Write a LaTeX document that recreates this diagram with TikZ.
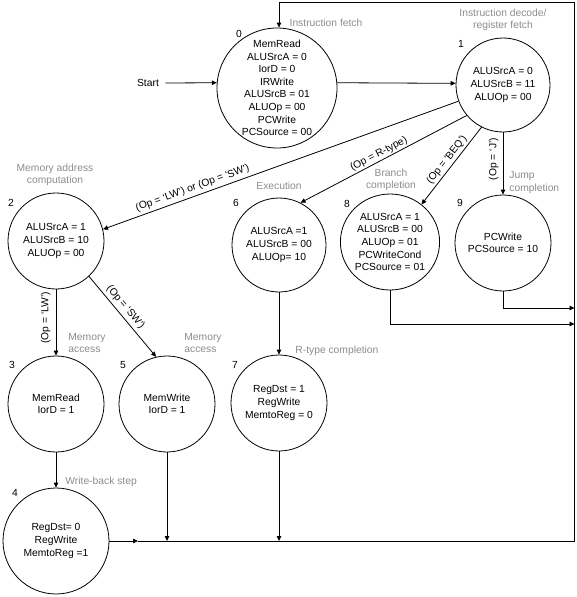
\documentclass[tikz,border=0pt]{standalone}
\usepackage{fontspec}
\setmainfont{Liberation Sans}
\usetikzlibrary{arrows.meta,shapes.geometric}
\definecolor{annoc}{RGB}{140,140,140}
\begin{document}
\begin{tikzpicture}[x=1pt,y=-1pt,line width=0.8pt,
  every node/.style={font=\fontsize{10.3}{12.6}\selectfont},
  state/.style={draw, circle, inner sep=0pt, align=center, minimum size=96pt},
  arr/.style={-{Triangle[length=5pt,width=4.5pt]}},
  anno/.style={text=annoc, inner sep=0pt, align=center},
  num/.style={inner sep=0pt},
  lbl/.style={inner sep=2pt, sloped, above}]
\useasboundingbox (0,0) rectangle (576,597);

% states
\node[state, minimum size=120pt] (s0) at (277,88) {MemRead\\ALUSrcA = 0\\IorD = 0\\IRWrite\\ALUSrcB = 01\\ALUOp = 00\\PCWrite\\PCSource = 00};
\node[state, minimum size=94pt] (s1) at (503,85) {ALUSrcA = 0\\ALUSrcB = 11\\ALUOp = 00};
\node[state] (s2) at (56,241) {ALUSrcA = 1\\ALUSrcB = 10\\ALUOp = 00};
\node[state, minimum size=94pt] (s6) at (279,245) {ALUSrcA =1\\ALUSrcB = 00\\ALUOp= 10};
\node[state, ellipse, minimum width=87pt, minimum height=96pt] (s8) at (390,242) {ALUSrcA = 1\\ALUSrcB = 00\\ALUOp = 01\\PCWriteCond\\PCSource = 01};
\node[state] (s9) at (503,243) {PCWrite\\PCSource = 10};
\node[state] (s3) at (56,404) {MemRead\\IorD = 1};
\node[state] (s5) at (167,404) {MemWrite\\IorD = 1};
\node[state] (s7) at (279,403) {RegDst = 1\\RegWrite\\MemtoReg = 0};
\node[state, minimum size=106pt] (s4) at (56,541) {RegDst= 0\\RegWrite\\MemtoReg =1};

% state numbers
\node[num] (n0) at (239,34) {0};
\node[num] (n1) at (461,44) {1};
\node[num] (n2) at (11,203) {2};
\node[num] (n6) at (236,203) {6};
\node[num] (n8) at (347,204) {8};
\node[num] (n9) at (460,203) {9};
\node[num] (n3) at (12,365) {3};
\node[num] (n5) at (123,365) {5};
\node[num] (n7) at (235,365) {7};
\node[num] (n4) at (15,493) {4};

% annotations
\node[anno] (a0) at (326,23) {Instruction fetch};
\node[anno] (a1) at (503,20) {Instruction decode/\\register fetch};
\node[anno] (a2) at (55,175) {Memory address\\computation};
\node[anno] (a6) at (279,186) {Execution};
\node[anno] (a8) at (391,180) {Branch\\completion};
\node[anno, anchor=west, align=left] (a9) at (509,182.5) {Jump\\completion};
\node[anno, anchor=west, align=left] (a3) at (68,343) {Memory\\access};
\node[anno, anchor=west, align=left] (a5) at (184,343) {Memory\\access};
\node[anno, anchor=west] (a7) at (295,351) {R-type completion};
\node[anno, anchor=west] (a4) at (65,482) {Write-back step};

% start
\node[inner sep=0pt] (start) at (148,83) {Start};
\draw[arr] ([xshift=6pt]start.east) -- (s0.175);

% transitions
\draw[arr] (s0.5) -- (s1.178);
\draw[arr] (s1.200) -- node[lbl, pos=0.74, inner sep=3pt] {(Op = ‘LW’) or (Op = ‘SW’)} (s2.14);
\draw[arr] (s1.220) -- node[lbl, pos=0.51, inner sep=1.5pt] {(Op = R-type)} (s6.63);
\draw[arr] (s1.243) -- node[lbl, pos=0.48] {(Op = ‘BEQ’)} (s8.50);
\draw[arr] (s1) -- node[pos=0.43, rotate=90, anchor=south, inner sep=4pt] {(Op = ‘J’)} (s9);
\draw[arr] (s2) -- node[pos=0.43, rotate=90, anchor=south, inner sep=5pt] {(Op = ‘LW’)} (s3);
\draw[arr] (s2.313) -- node[lbl, pos=0.45, inner sep=3pt] {(Op = ‘SW’)} (s5.103);
\draw[arr] (s3) -- (s4);
\draw[arr] (s6) -- (s7);
\draw[arr] (s5) -- (s5 |- s4);
\draw[arr] (s7) -- (s7 |- s4);

% return paths
\coordinate (m4) at (138,541);
\coordinate (br) at (574.5,541);
\coordinate (tr) at (574.5,2);
\coordinate (tl) at (279,2);
\coordinate (r9) at (574.5,308);
\coordinate (r8) at (574.5,324);
\draw[arr] (s4) -- (m4);
\draw[arr] (m4) -- (br) -- (tr) -- (tl) -- (tl |- s0.north);
\draw[arr] (s9.south) |- (r9);
\draw[arr] (s8.south) |- (r8);
\end{tikzpicture}
\end{document}
